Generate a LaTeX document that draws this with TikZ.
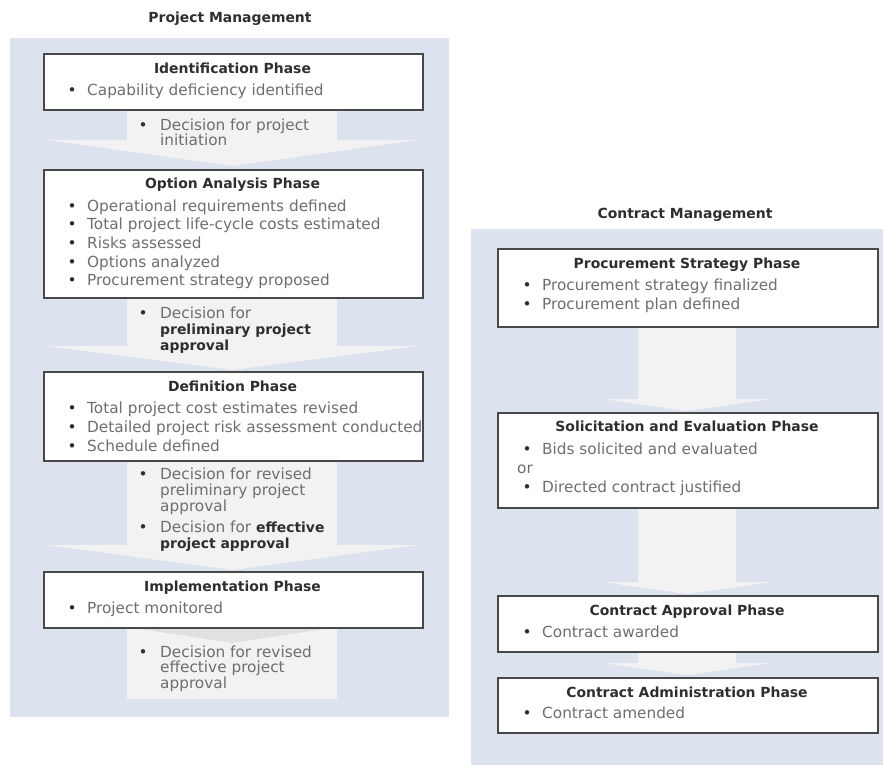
\documentclass[tikz,border=0pt]{standalone}
\usepackage{fontspec}
\setmainfont{DejaVu Sans}
\newfontfamily\tfam{DejaVu Sans}[Scale=0.91]
\definecolor{panelc}{HTML}{DCE3EE}
\definecolor{shaftc}{HTML}{F2F2F2}
\definecolor{shadowc}{HTML}{E1E1E1}
\definecolor{boxline}{HTML}{484848}
\definecolor{bodyc}{HTML}{6E6E6E}
\definecolor{titlec}{HTML}{2E2E2E}
\tikzset{
  panel/.style={fill=panelc, draw=none},
  shaft/.style={fill=shaftc, draw=none},
  phasebox/.style={draw=boxline, line width=1.8pt, fill=white, inner sep=0pt, anchor=north west},
  ttlst/.style={inner sep=0pt, anchor=base, text=titlec, font=\fontsize{15.3}{18.7}\selectfont\tfam\bfseries},
  bst/.style={inner sep=0pt, anchor=base west, text=bodyc, font=\fontsize{15.3}{18.7}\selectfont},
}
\newcommand\ttl[4]{\node[ttlst] (#1) at (#2,#3) {#4};}
\newcommand\bl[5]{\node[bst] (#1) at (#2,#3) {\makebox[#4][l]{\textcolor{titlec}{\textbullet}}#5};}
\newcommand\cl[4]{\node[bst] (#1) at (#2,#3) {#4};}
\newcommand\bb[1]{{\color{titlec}\tfam\bfseries #1}}
\begin{document}
\begin{tikzpicture}[x=1pt,y=-1pt]
\useasboundingbox (0,0) rectangle (883,765);
\fill[white] (0,0) rectangle (883,765);
% panels
\fill[panel] (10,38) rectangle (449,717);
\fill[panel] (471,229) rectangle (883,765);
\node[ttlst] (pmtitle) at (230,23) {Project Management};
\node[ttlst] (cmtitle) at (685,218) {Contract Management};
% left block arrows
\fill[shaft] (127,100) -- (127,140) -- (47,140) -- (232.5,166) -- (418,140) -- (337,140) -- (337,100) -- cycle;
\fill[shaft] (127,290) -- (127,346) -- (47,346) -- (232.5,370) -- (418,346) -- (337,346) -- (337,290) -- cycle;
\fill[shaft] (127,455) -- (127,545) -- (47,545) -- (232.5,570) -- (418,545) -- (337,545) -- (337,455) -- cycle;
\fill[shaft] (127,620) rectangle (337,699);
\fill[shadowc] (127,627) -- (337,627) -- (232.5,643) -- cycle;
% right block arrows
\fill[shaft] (638,320) -- (638,399) -- (603,399) -- (687,411) -- (772,399) -- (736,399) -- (736,320) -- cycle;
\fill[shaft] (638,500) -- (638,582) -- (603,582) -- (687,594) -- (772,582) -- (736,582) -- (736,500) -- cycle;
\fill[shaft] (638,645) -- (638,663) -- (603,663) -- (687,675) -- (772,663) -- (736,663) -- (736,645) -- cycle;
% left boxes
\node[phasebox, minimum width=379pt, minimum height=56pt] (idb) at (43,53) {};
\node[phasebox, minimum width=379pt, minimum height=128pt] (oab) at (43,169) {};
\node[phasebox, minimum width=379pt, minimum height=89pt] (defb) at (43,371) {};
\node[phasebox, minimum width=379pt, minimum height=56pt] (impb) at (43,571) {};
% right boxes
\node[phasebox, minimum width=380pt, minimum height=78pt] (psb) at (497,248) {};
\node[phasebox, minimum width=380pt, minimum height=95pt] (seb) at (497,412) {};
\node[phasebox, minimum width=380pt, minimum height=56pt] (cab) at (497,595) {};
\node[phasebox, minimum width=380pt, minimum height=55pt] (cadb) at (497,677) {};
% left box texts
\ttl{idt}{232.5}{74}{Identification Phase}
\bl{id1}{67.5}{96}{19.5pt}{Capability deficiency identified}
\ttl{oat}{232.5}{188}{Option Analysis Phase}
\bl{oa1}{67.5}{211}{19.5pt}{Operational requirements defined}
\bl{oa2}{67.5}{229.7}{19.5pt}{Total project life-cycle costs estimated}
\bl{oa3}{67.5}{248.4}{19.5pt}{Risks assessed}
\bl{oa4}{67.5}{267.1}{19.5pt}{Options analyzed}
\bl{oa5}{67.5}{285.8}{19.5pt}{Procurement strategy proposed}
\ttl{deft}{232.5}{391}{Definition Phase}
\bl{def1}{67.5}{413}{19.5pt}{Total project cost estimates revised}
\bl{def2}{67.5}{432}{19.5pt}{Detailed project risk assessment conducted}
\bl{def3}{67.5}{451}{19.5pt}{Schedule defined}
\ttl{impt}{232.5}{591}{Implementation Phase}
\bl{imp1}{67.5}{613}{19.5pt}{Project monitored}
% decision texts
\bl{d1a}{138.5}{131}{21.5pt}{Decision for project}
\cl{d1b}{160}{146}{initiation}
\bl{d2a}{138.5}{318}{21.5pt}{Decision for}
\cl{d2b}{160}{334}{\bb{preliminary project}}
\cl{d2c}{160}{350}{\bb{approval}}
\bl{d3a}{138.5}{479}{21.5pt}{Decision for revised}
\cl{d3b}{160}{495}{preliminary project}
\cl{d3c}{160}{511}{approval}
\bl{d4a}{138.5}{532}{21.5pt}{Decision for \bb{effective}}
\cl{d4b}{160}{548}{\bb{project approval}}
\bl{d5a}{138.5}{657}{21.5pt}{Decision for revised}
\cl{d5b}{160}{672.5}{effective project}
\cl{d5c}{160}{688}{approval}
% right box texts
\ttl{pst}{687}{268}{Procurement Strategy Phase}
\bl{ps1}{522.5}{290}{19.5pt}{Procurement strategy finalized}
\bl{ps2}{522.5}{309}{19.5pt}{Procurement plan defined}
\ttl{set}{687}{431}{Solicitation and Evaluation Phase}
\bl{se1}{522.5}{454}{19.5pt}{Bids solicited and evaluated}
\cl{seor}{517}{473}{or}
\bl{se2}{522.5}{492}{19.5pt}{Directed contract justified}
\ttl{cat}{687}{615}{Contract Approval Phase}
\bl{ca1}{522.5}{637}{19.5pt}{Contract awarded}
\ttl{cadt}{687}{697}{Contract Administration Phase}
\bl{cad1}{522.5}{718}{19.5pt}{Contract amended}
\end{tikzpicture}
\end{document}
